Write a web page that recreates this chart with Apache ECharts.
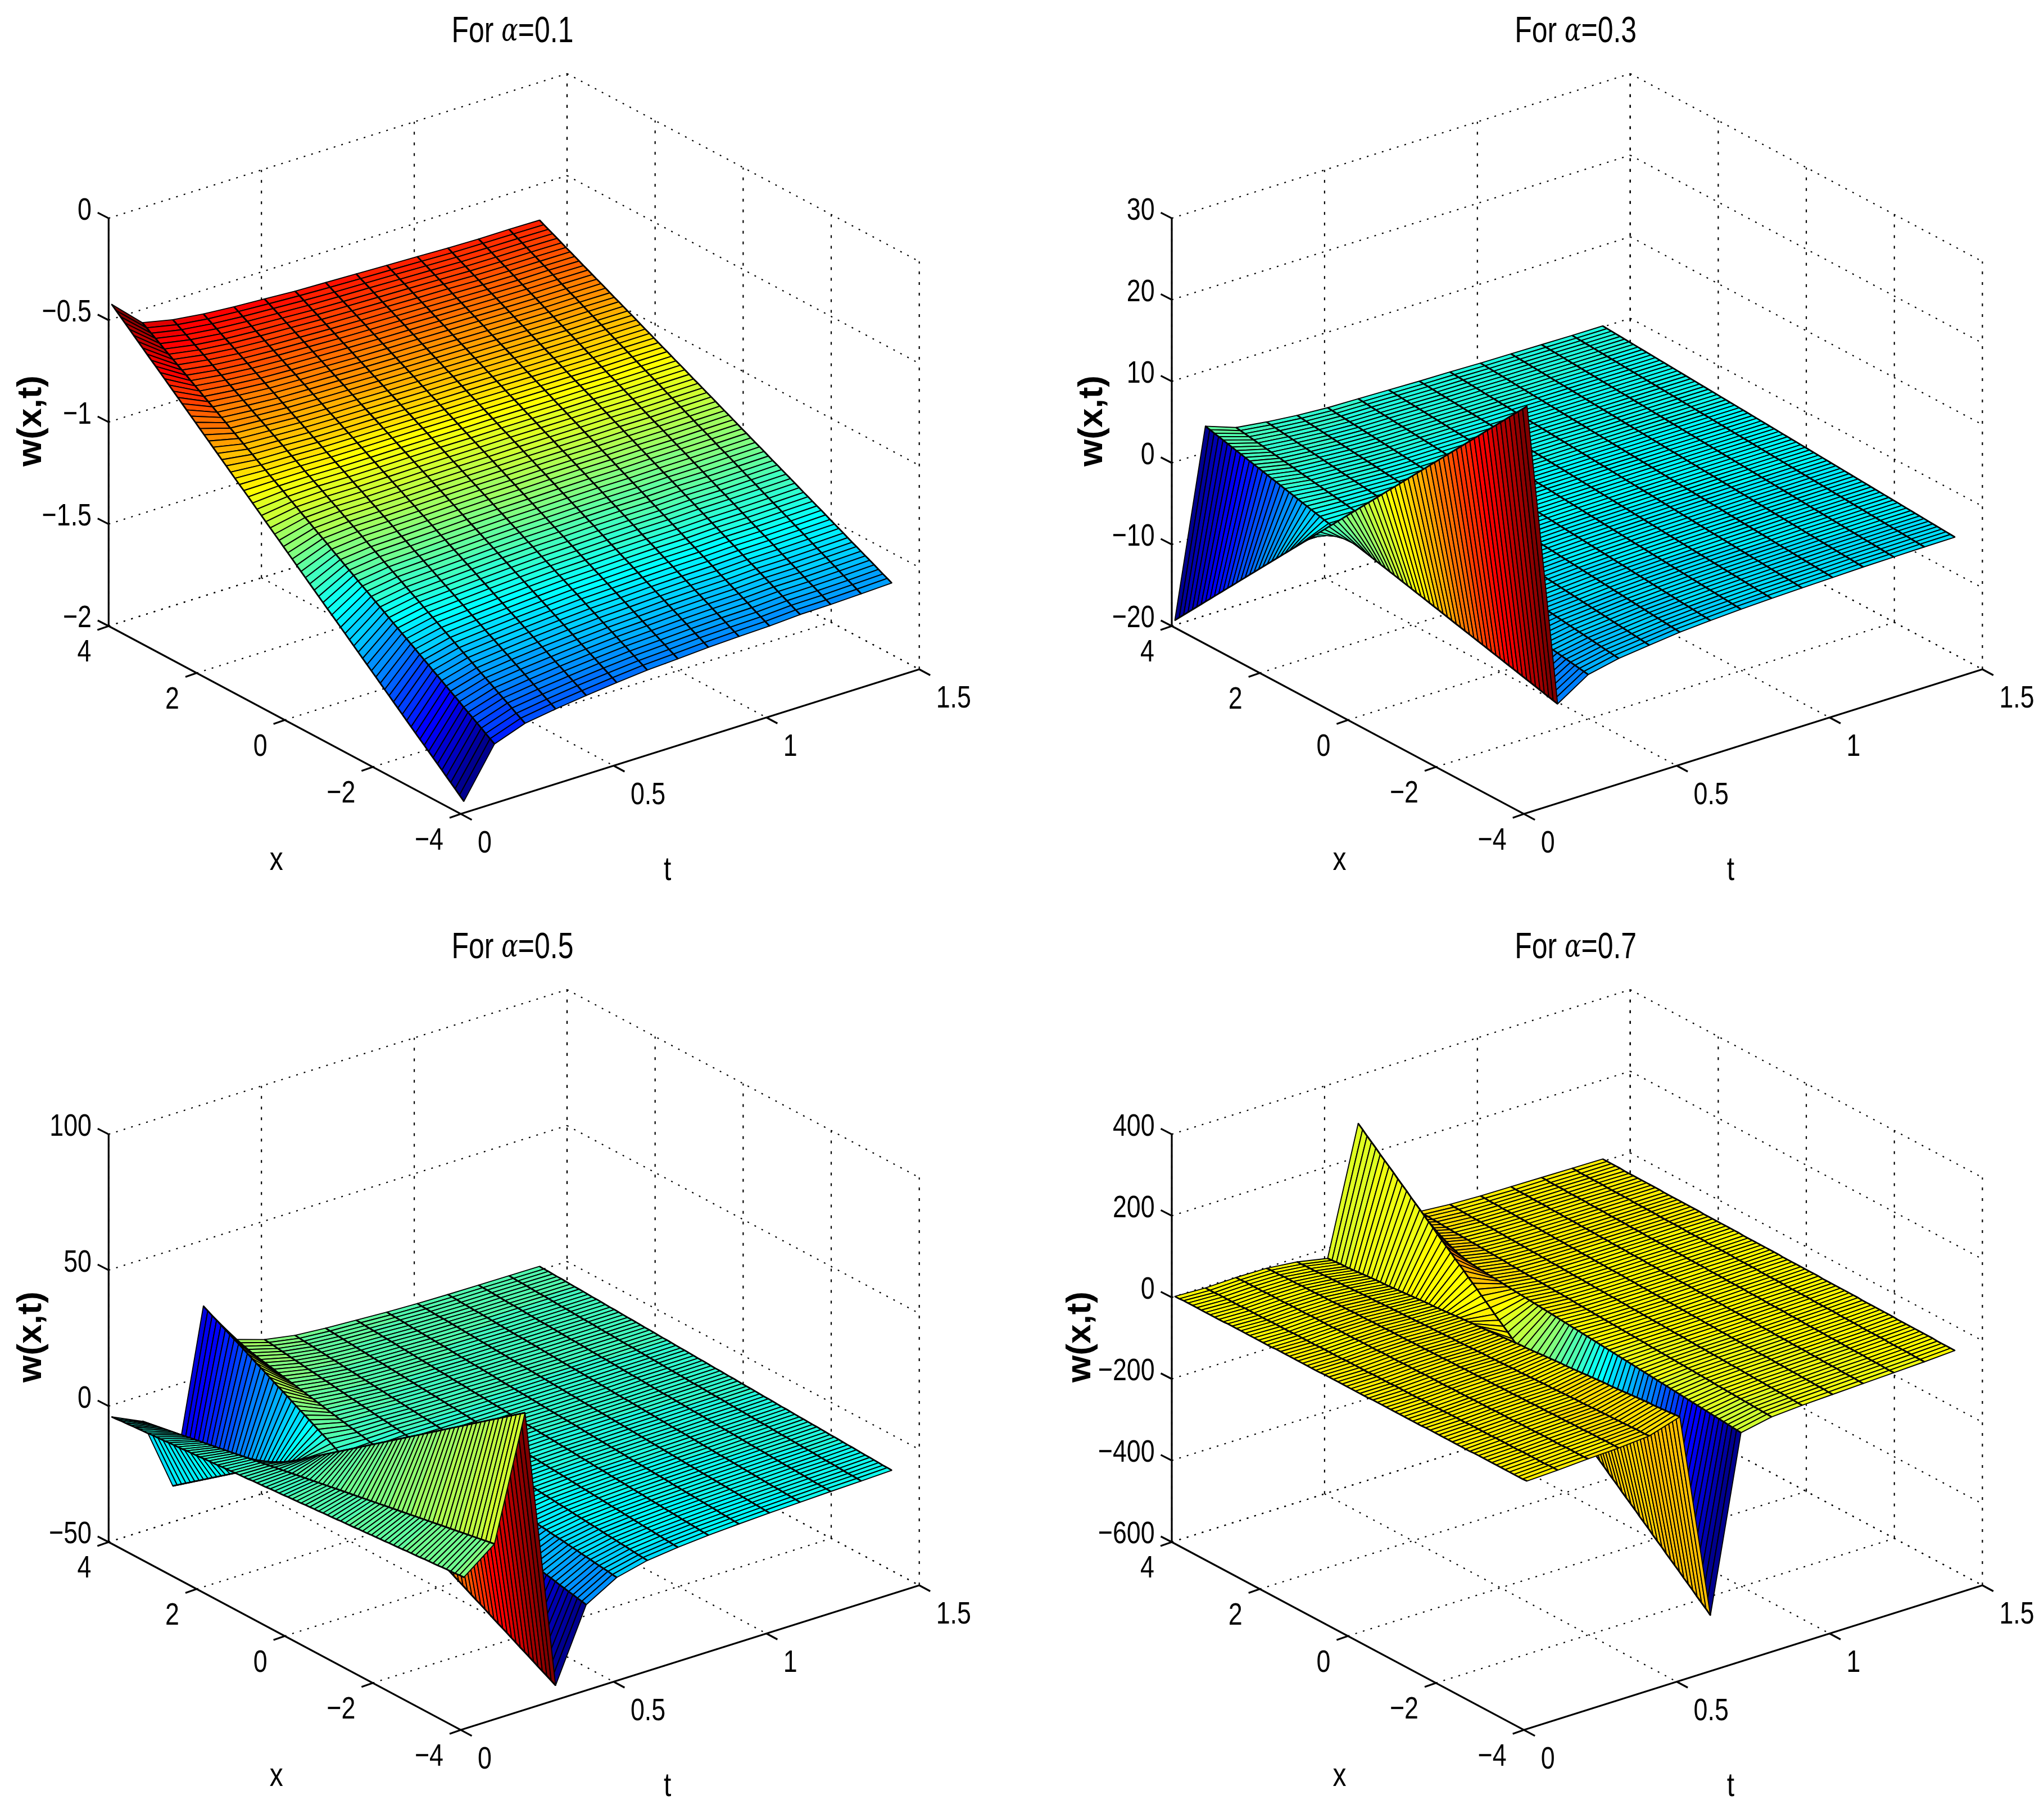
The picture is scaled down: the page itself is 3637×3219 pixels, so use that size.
<!DOCTYPE html>
<html>
<head>
<meta charset="utf-8">
<style>html,body{margin:0;padding:0;background:#fff}#chart{width:3637px;height:3219px}</style>
<script src="https://cdn.jsdelivr.net/npm/echarts@6/dist/echarts.min.js"></script>
</head>
<body>
<div id="chart"></div>
<script>
const xValues = [-4,-3.9,-3.8,-3.7,-3.6,-3.5,-3.4,-3.3,-3.2,-3.1,-3,-2.9,-2.8,-2.7,-2.6,-2.5,-2.4,-2.3,-2.2,-2.1,-2,-1.9,-1.8,-1.7,-1.6,-1.5,-1.4,-1.3,-1.2,-1.1,-1,-.9,-.8,-.7,-.6,-.5,-.4,-.3,-.2,-.1,0,.1,.2,.3,.4,.5,.6,.7,.8,.9,1,1.1,1.2,1.3,1.4,1.5,1.6,1.7,1.8,1.9,2,2.1,2.2,2.3,2.4,2.5,2.6,2.7,2.8,2.9,3,3.1,3.2,3.3,3.4,3.5,3.6,3.7,3.8,3.9,4]
const tValues = [0.01, 0.11, 0.21, 0.31, 0.41, 0.51, 0.61, 0.71, 0.81, 0.91, 1.01, 1.11, 1.21, 1.31, 1.41]
const xTicks = [4, 2, 0, -2, -4]
const tTicks = [0, 0.5, 1, 1.5]
const titles = ['0.1', '0.3', '0.5', '0.7']
const zTicks1 = [0, -0.5, -1, -1.5, -2]
const zTicks2 = [30, 20, 10, 0, -10, -20]
const zTicks3 = [100, 50, 0, -50]
const zTicks4 = [400, 200, 0, -200, -400, -600]

// 每行一个 t，行内从 x=-4 到 x=4
const w1 = [
[-1.943,-1.924,-1.905,-1.886,-1.867,-1.848,-1.829,-1.81,-1.791,-1.772,-1.754,-1.735,-1.716,-1.697,-1.678,-1.659,-1.64,-1.621,-1.602,-1.583,-1.564,-1.545,-1.526,-1.507,-1.488,-1.469,-1.45,-1.431,-1.412,-1.393,-1.374,-1.356,-1.337,-1.318,-1.299,-1.28,-1.261,-1.242,-1.223,-1.204,-1.185,-1.166,-1.147,-1.128,-1.109,-1.09,-1.071,-1.052,-1.033,-1.014,-.995,-.977,-.958,-.939,-.92,-.901,-.882,-.863,-.844,-.825,-.806,-.787,-.768,-.749,-.73,-.711,-.692,-.673,-.654,-.635,-.616,-.598,-.579,-.56,-.541,-.522,-.503,-.484,-.465,-.446,-.427],
[-1.709,-1.695,-1.681,-1.666,-1.652,-1.637,-1.623,-1.609,-1.594,-1.58,-1.566,-1.552,-1.537,-1.523,-1.509,-1.494,-1.48,-1.466,-1.451,-1.437,-1.423,-1.409,-1.394,-1.38,-1.366,-1.351,-1.337,-1.323,-1.308,-1.294,-1.28,-1.266,-1.251,-1.237,-1.223,-1.208,-1.194,-1.18,-1.165,-1.151,-1.137,-1.123,-1.108,-1.094,-1.08,-1.065,-1.051,-1.037,-1.022,-1.008,-.994,-.98,-.965,-.951,-.937,-.922,-.908,-.894,-.879,-.865,-.851,-.836,-.822,-.808,-.793,-.779,-.765,-.75,-.736,-.722,-.707,-.693,-.679,-.664,-.65,-.636,-.621,-.607,-.593,-.578,-.564],
[-1.655,-1.642,-1.629,-1.615,-1.602,-1.589,-1.576,-1.562,-1.549,-1.536,-1.523,-1.51,-1.496,-1.483,-1.47,-1.457,-1.443,-1.43,-1.417,-1.404,-1.39,-1.377,-1.364,-1.351,-1.337,-1.324,-1.311,-1.298,-1.284,-1.271,-1.258,-1.245,-1.232,-1.218,-1.205,-1.192,-1.179,-1.165,-1.152,-1.139,-1.126,-1.113,-1.099,-1.086,-1.073,-1.06,-1.046,-1.033,-1.02,-1.007,-.994,-.98,-.967,-.954,-.941,-.927,-.914,-.901,-.888,-.874,-.861,-.848,-.835,-.821,-.808,-.795,-.782,-.768,-.755,-.742,-.729,-.716,-.702,-.689,-.676,-.663,-.649,-.636,-.623,-.61,-.597],
[-1.632,-1.619,-1.607,-1.594,-1.581,-1.569,-1.556,-1.543,-1.53,-1.518,-1.505,-1.492,-1.48,-1.467,-1.454,-1.442,-1.429,-1.416,-1.403,-1.391,-1.378,-1.365,-1.353,-1.34,-1.327,-1.315,-1.302,-1.289,-1.276,-1.264,-1.251,-1.238,-1.226,-1.213,-1.2,-1.188,-1.175,-1.162,-1.149,-1.137,-1.124,-1.111,-1.099,-1.086,-1.073,-1.061,-1.048,-1.035,-1.022,-1.01,-.997,-.984,-.972,-.959,-.946,-.934,-.921,-.908,-.895,-.883,-.87,-.857,-.845,-.832,-.819,-.807,-.794,-.781,-.768,-.756,-.743,-.73,-.718,-.705,-.692,-.68,-.667,-.654,-.641,-.629,-.616],
[-1.613,-1.601,-1.588,-1.576,-1.564,-1.551,-1.539,-1.527,-1.515,-1.502,-1.49,-1.478,-1.465,-1.453,-1.441,-1.428,-1.416,-1.404,-1.392,-1.379,-1.367,-1.355,-1.342,-1.33,-1.318,-1.305,-1.293,-1.281,-1.269,-1.256,-1.244,-1.232,-1.219,-1.207,-1.195,-1.182,-1.17,-1.158,-1.146,-1.133,-1.121,-1.109,-1.096,-1.084,-1.072,-1.059,-1.047,-1.035,-1.022,-1.01,-.997,-.985,-.973,-.96,-.948,-.936,-.923,-.911,-.899,-.887,-.874,-.862,-.85,-.837,-.825,-.813,-.8,-.788,-.776,-.764,-.751,-.739,-.727,-.714,-.702,-.69,-.677,-.665,-.653,-.64,-.628],
[-1.597,-1.585,-1.573,-1.561,-1.549,-1.537,-1.525,-1.513,-1.501,-1.489,-1.477,-1.465,-1.453,-1.441,-1.429,-1.417,-1.405,-1.393,-1.381,-1.369,-1.357,-1.345,-1.333,-1.321,-1.309,-1.297,-1.285,-1.273,-1.261,-1.249,-1.237,-1.225,-1.213,-1.201,-1.189,-1.177,-1.165,-1.153,-1.141,-1.129,-1.117,-1.105,-1.093,-1.081,-1.069,-1.057,-1.045,-1.033,-1.021,-1.009,-.997,-.985,-.973,-.961,-.949,-.937,-.925,-.913,-.901,-.889,-.877,-.865,-.853,-.841,-.829,-.817,-.805,-.793,-.781,-.769,-.757,-.745,-.733,-.721,-.709,-.697,-.685,-.673,-.661,-.649,-.637],
[-1.583,-1.571,-1.56,-1.548,-1.536,-1.524,-1.513,-1.501,-1.489,-1.478,-1.466,-1.454,-1.442,-1.431,-1.419,-1.407,-1.395,-1.384,-1.372,-1.36,-1.349,-1.337,-1.325,-1.314,-1.302,-1.29,-1.278,-1.267,-1.255,-1.243,-1.232,-1.22,-1.208,-1.196,-1.185,-1.173,-1.161,-1.15,-1.138,-1.126,-1.115,-1.103,-1.091,-1.079,-1.068,-1.056,-1.044,-1.032,-1.021,-1.009,-.997,-.985,-.974,-.962,-.95,-.939,-.927,-.915,-.903,-.892,-.88,-.868,-.857,-.845,-.833,-.821,-.81,-.798,-.786,-.775,-.763,-.751,-.739,-.728,-.716,-.704,-.693,-.681,-.669,-.657,-.646],
[-1.575,-1.563,-1.552,-1.54,-1.529,-1.517,-1.506,-1.494,-1.483,-1.471,-1.46,-1.448,-1.436,-1.425,-1.413,-1.402,-1.39,-1.379,-1.367,-1.356,-1.344,-1.333,-1.321,-1.31,-1.298,-1.287,-1.275,-1.264,-1.252,-1.241,-1.229,-1.217,-1.206,-1.194,-1.183,-1.171,-1.16,-1.148,-1.137,-1.125,-1.113,-1.102,-1.09,-1.079,-1.067,-1.056,-1.044,-1.033,-1.021,-1.01,-.998,-.986,-.975,-.963,-.952,-.94,-.929,-.917,-.906,-.894,-.882,-.871,-.859,-.848,-.836,-.825,-.813,-.802,-.79,-.779,-.767,-.755,-.744,-.732,-.721,-.709,-.698,-.686,-.675,-.663,-.651],
[-1.566,-1.555,-1.543,-1.532,-1.521,-1.509,-1.498,-1.486,-1.475,-1.464,-1.452,-1.441,-1.43,-1.418,-1.407,-1.396,-1.384,-1.373,-1.361,-1.35,-1.339,-1.327,-1.316,-1.305,-1.293,-1.282,-1.27,-1.259,-1.248,-1.236,-1.225,-1.214,-1.202,-1.191,-1.18,-1.168,-1.157,-1.145,-1.134,-1.123,-1.111,-1.1,-1.089,-1.077,-1.066,-1.054,-1.043,-1.032,-1.02,-1.009,-.997,-.986,-.975,-.963,-.952,-.941,-.929,-.918,-.906,-.895,-.884,-.872,-.861,-.85,-.838,-.827,-.815,-.804,-.793,-.781,-.77,-.759,-.747,-.736,-.725,-.713,-.702,-.69,-.679,-.668,-.656],
[-1.56,-1.549,-1.538,-1.526,-1.515,-1.504,-1.493,-1.481,-1.47,-1.459,-1.448,-1.436,-1.425,-1.414,-1.403,-1.391,-1.38,-1.369,-1.358,-1.346,-1.335,-1.324,-1.313,-1.301,-1.29,-1.279,-1.268,-1.256,-1.245,-1.234,-1.223,-1.211,-1.2,-1.189,-1.178,-1.166,-1.155,-1.144,-1.133,-1.121,-1.111,-1.1,-1.088,-1.077,-1.066,-1.055,-1.043,-1.032,-1.021,-1.01,-.998,-.987,-.976,-.965,-.953,-.942,-.931,-.92,-.908,-.897,-.886,-.875,-.863,-.852,-.841,-.83,-.818,-.807,-.796,-.785,-.773,-.762,-.751,-.74,-.728,-.717,-.706,-.695,-.683,-.672,-.661],
[-1.556,-1.545,-1.534,-1.523,-1.512,-1.5,-1.489,-1.478,-1.467,-1.456,-1.445,-1.434,-1.423,-1.411,-1.4,-1.389,-1.378,-1.367,-1.356,-1.345,-1.333,-1.322,-1.311,-1.3,-1.289,-1.278,-1.267,-1.256,-1.244,-1.233,-1.222,-1.211,-1.2,-1.189,-1.178,-1.167,-1.155,-1.144,-1.133,-1.122,-1.111,-1.1,-1.089,-1.077,-1.066,-1.055,-1.044,-1.033,-1.022,-1.011,-.999,-.988,-.977,-.966,-.955,-.944,-.933,-.922,-.91,-.899,-.888,-.877,-.866,-.855,-.844,-.832,-.821,-.81,-.799,-.788,-.777,-.766,-.755,-.743,-.732,-.721,-.71,-.699,-.688,-.677,-.666],
[-1.547,-1.536,-1.525,-1.514,-1.503,-1.492,-1.481,-1.47,-1.459,-1.448,-1.437,-1.426,-1.416,-1.405,-1.394,-1.383,-1.372,-1.361,-1.35,-1.339,-1.328,-1.317,-1.306,-1.295,-1.284,-1.273,-1.262,-1.251,-1.24,-1.229,-1.218,-1.208,-1.197,-1.186,-1.175,-1.164,-1.153,-1.142,-1.131,-1.12,-1.109,-1.098,-1.087,-1.076,-1.065,-1.054,-1.043,-1.032,-1.021,-1.01,-.999,-.989,-.978,-.967,-.956,-.945,-.934,-.923,-.912,-.901,-.89,-.879,-.868,-.857,-.846,-.835,-.824,-.813,-.802,-.791,-.78,-.77,-.759,-.748,-.737,-.726,-.715,-.704,-.693,-.682,-.671],
[-1.545,-1.534,-1.523,-1.512,-1.501,-1.491,-1.48,-1.469,-1.458,-1.447,-1.436,-1.425,-1.414,-1.403,-1.392,-1.382,-1.371,-1.36,-1.349,-1.338,-1.327,-1.316,-1.305,-1.294,-1.283,-1.273,-1.262,-1.251,-1.24,-1.229,-1.218,-1.207,-1.196,-1.185,-1.174,-1.164,-1.153,-1.142,-1.131,-1.12,-1.11,-1.099,-1.088,-1.077,-1.066,-1.055,-1.044,-1.033,-1.022,-1.011,-1.001,-.99,-.979,-.968,-.957,-.946,-.935,-.924,-.913,-.902,-.892,-.881,-.87,-.859,-.848,-.837,-.826,-.815,-.804,-.793,-.783,-.772,-.761,-.75,-.739,-.728,-.717,-.706,-.695,-.684,-.674],
[-1.54,-1.529,-1.518,-1.508,-1.497,-1.486,-1.475,-1.464,-1.453,-1.443,-1.432,-1.421,-1.41,-1.399,-1.388,-1.378,-1.367,-1.356,-1.345,-1.334,-1.324,-1.313,-1.302,-1.291,-1.28,-1.269,-1.259,-1.248,-1.237,-1.226,-1.215,-1.204,-1.194,-1.183,-1.172,-1.161,-1.15,-1.14,-1.129,-1.118,-1.107,-1.096,-1.085,-1.075,-1.064,-1.053,-1.042,-1.031,-1.02,-1.01,-.999,-.988,-.977,-.966,-.955,-.945,-.934,-.923,-.912,-.901,-.891,-.88,-.869,-.858,-.847,-.836,-.826,-.815,-.804,-.793,-.782,-.771,-.761,-.75,-.739,-.728,-.717,-.706,-.696,-.685,-.674],
[-1.534,-1.523,-1.513,-1.502,-1.491,-1.48,-1.47,-1.459,-1.448,-1.438,-1.427,-1.416,-1.405,-1.395,-1.384,-1.373,-1.362,-1.352,-1.341,-1.33,-1.32,-1.309,-1.298,-1.287,-1.277,-1.266,-1.255,-1.245,-1.234,-1.223,-1.212,-1.202,-1.191,-1.18,-1.17,-1.159,-1.148,-1.137,-1.127,-1.116,-1.105,-1.094,-1.084,-1.073,-1.062,-1.052,-1.041,-1.03,-1.019,-1.009,-.998,-.987,-.977,-.966,-.955,-.944,-.934,-.923,-.912,-.901,-.891,-.88,-.869,-.859,-.848,-.837,-.826,-.816,-.805,-.794,-.784,-.773,-.762,-.751,-.741,-.73,-.719,-.708,-.698,-.687,-.676]
]
const w2 = [
[29.87,29.25,28.64,28.02,27.41,26.79,26.17,25.56,24.94,24.33,23.71,23.09,22.48,21.86,21.24,20.63,20.01,19.4,18.78,18.16,17.55,16.93,16.32,15.7,15.08,14.47,13.85,13.24,12.62,12,11.39,10.77,10.16,9.54,8.92,8.31,7.69,7.07,6.46,5.84,5.23,4.61,3.99,3.38,2.76,2.15,1.53,.91,.3,-.32,-.93,-1.55,-2.17,-2.78,-3.4,-4.01,-4.63,-5.25,-5.86,-6.48,-7.09,-7.71,-8.33,-8.94,-9.56,-10.17,-10.79,-11.41,-12.02,-12.64,-13.25,-13.87,-14.49,-15.1,-15.72,-16.34,-16.95,-17.57,-18.18,-18.8,-19.42],
[-7.81,-7.67,-7.53,-7.4,-7.26,-7.12,-6.98,-6.85,-6.71,-6.57,-6.43,-6.3,-6.16,-6.02,-5.88,-5.75,-5.61,-5.47,-5.33,-5.2,-5.06,-4.92,-4.78,-4.65,-4.51,-4.37,-4.23,-4.09,-3.96,-3.82,-3.68,-3.54,-3.41,-3.27,-3.13,-2.99,-2.86,-2.72,-2.58,-2.44,-2.31,-2.17,-2.03,-1.89,-1.76,-1.62,-1.48,-1.34,-1.21,-1.07,-.93,-.79,-.66,-.52,-.38,-.24,-.11,.03,.17,.31,.45,.58,.72,.86,1,1.13,1.27,1.41,1.55,1.68,1.82,1.96,2.1,2.23,2.37,2.51,2.65,2.78,2.92,3.06,3.2],
[-5.4,-5.31,-5.22,-5.13,-5.04,-4.95,-4.86,-4.76,-4.67,-4.58,-4.49,-4.4,-4.31,-4.22,-4.13,-4.04,-3.95,-3.86,-3.77,-3.67,-3.58,-3.49,-3.4,-3.31,-3.22,-3.13,-3.04,-2.95,-2.86,-2.77,-2.68,-2.58,-2.49,-2.4,-2.31,-2.22,-2.13,-2.04,-1.95,-1.86,-1.77,-1.68,-1.59,-1.49,-1.4,-1.31,-1.22,-1.13,-1.04,-.95,-.86,-.77,-.68,-.59,-.5,-.4,-.31,-.22,-.13,-.04,.05,.14,.23,.32,.41,.5,.59,.69,.78,.87,.96,1.05,1.14,1.23,1.32,1.41,1.5,1.59,1.68,1.77,1.86],
[-4.6,-4.53,-4.45,-4.38,-4.3,-4.23,-4.15,-4.08,-4,-3.93,-3.86,-3.78,-3.71,-3.63,-3.56,-3.48,-3.41,-3.33,-3.26,-3.18,-3.11,-3.04,-2.96,-2.89,-2.81,-2.74,-2.66,-2.59,-2.51,-2.44,-2.37,-2.29,-2.22,-2.14,-2.07,-1.99,-1.92,-1.84,-1.77,-1.69,-1.62,-1.55,-1.47,-1.4,-1.32,-1.25,-1.17,-1.1,-1.02,-.95,-.88,-.8,-.73,-.65,-.58,-.5,-.43,-.35,-.28,-.2,-.13,-.06,.02,.09,.17,.24,.32,.39,.47,.54,.61,.69,.76,.84,.91,.99,1.06,1.14,1.21,1.29,1.36],
[-4.16,-4.1,-4.03,-3.97,-3.9,-3.84,-3.77,-3.71,-3.65,-3.58,-3.52,-3.45,-3.39,-3.32,-3.26,-3.2,-3.13,-3.07,-3,-2.94,-2.88,-2.81,-2.75,-2.68,-2.62,-2.55,-2.49,-2.43,-2.36,-2.3,-2.23,-2.17,-2.1,-2.04,-1.98,-1.91,-1.85,-1.78,-1.72,-1.65,-1.59,-1.53,-1.46,-1.4,-1.33,-1.27,-1.2,-1.14,-1.08,-1.01,-.95,-.88,-.82,-.75,-.69,-.63,-.56,-.5,-.43,-.37,-.31,-.24,-.18,-.11,-.05,.02,.08,.14,.21,.27,.34,.4,.47,.53,.59,.66,.72,.79,.85,.92,.98],
[-3.75,-3.69,-3.64,-3.58,-3.53,-3.47,-3.41,-3.36,-3.3,-3.25,-3.19,-3.13,-3.08,-3.02,-2.96,-2.91,-2.85,-2.8,-2.74,-2.68,-2.63,-2.57,-2.52,-2.46,-2.4,-2.35,-2.29,-2.24,-2.18,-2.12,-2.07,-2.01,-1.96,-1.9,-1.84,-1.79,-1.73,-1.67,-1.62,-1.56,-1.51,-1.45,-1.39,-1.34,-1.28,-1.23,-1.17,-1.11,-1.06,-1,-.95,-.89,-.83,-.78,-.72,-.66,-.61,-.55,-.5,-.44,-.38,-.33,-.27,-.22,-.16,-.1,-.05,.01,.06,.12,.18,.23,.29,.35,.4,.46,.51,.57,.63,.68,.74],
[-3.5,-3.45,-3.4,-3.34,-3.29,-3.24,-3.19,-3.14,-3.08,-3.03,-2.98,-2.93,-2.88,-2.83,-2.77,-2.72,-2.67,-2.62,-2.57,-2.51,-2.46,-2.41,-2.36,-2.31,-2.25,-2.2,-2.15,-2.1,-2.05,-1.99,-1.94,-1.89,-1.84,-1.79,-1.74,-1.68,-1.63,-1.58,-1.53,-1.48,-1.43,-1.37,-1.32,-1.27,-1.22,-1.17,-1.11,-1.06,-1.01,-.96,-.91,-.85,-.8,-.75,-.7,-.65,-.6,-.54,-.49,-.44,-.39,-.34,-.28,-.23,-.18,-.13,-.08,-.03,.03,.08,.13,.18,.23,.29,.34,.39,.44,.49,.55,.6,.65],
[-3.3,-3.25,-3.2,-3.16,-3.11,-3.06,-3.01,-2.96,-2.92,-2.87,-2.82,-2.77,-2.72,-2.67,-2.63,-2.58,-2.53,-2.48,-2.43,-2.39,-2.34,-2.29,-2.24,-2.19,-2.15,-2.1,-2.05,-2,-1.95,-1.91,-1.86,-1.81,-1.76,-1.71,-1.66,-1.62,-1.57,-1.52,-1.47,-1.42,-1.38,-1.33,-1.28,-1.23,-1.18,-1.14,-1.09,-1.04,-.99,-.94,-.89,-.85,-.8,-.75,-.7,-.65,-.61,-.56,-.51,-.46,-.41,-.37,-.32,-.27,-.22,-.17,-.13,-.08,-.03,.02,.07,.11,.16,.21,.26,.31,.35,.4,.45,.5,.55],
[-3.15,-3.11,-3.06,-3.02,-2.97,-2.93,-2.88,-2.84,-2.79,-2.75,-2.7,-2.66,-2.61,-2.57,-2.52,-2.48,-2.43,-2.39,-2.34,-2.3,-2.25,-2.21,-2.16,-2.12,-2.07,-2.03,-1.98,-1.94,-1.89,-1.85,-1.8,-1.76,-1.71,-1.67,-1.62,-1.58,-1.53,-1.49,-1.44,-1.4,-1.35,-1.31,-1.26,-1.22,-1.17,-1.13,-1.08,-1.04,-.99,-.95,-.9,-.86,-.81,-.77,-.72,-.68,-.63,-.59,-.54,-.5,-.45,-.41,-.36,-.32,-.27,-.23,-.18,-.14,-.09,-.05,0,.04,.09,.13,.18,.22,.27,.31,.36,.4,.45],
[-3.05,-3.01,-2.96,-2.92,-2.88,-2.83,-2.79,-2.75,-2.71,-2.66,-2.62,-2.58,-2.53,-2.49,-2.45,-2.4,-2.36,-2.32,-2.27,-2.23,-2.19,-2.15,-2.1,-2.06,-2.02,-1.97,-1.93,-1.89,-1.84,-1.8,-1.76,-1.71,-1.67,-1.63,-1.58,-1.54,-1.5,-1.46,-1.41,-1.37,-1.33,-1.28,-1.24,-1.2,-1.15,-1.11,-1.07,-1.02,-.98,-.94,-.9,-.85,-.81,-.77,-.72,-.68,-.64,-.59,-.55,-.51,-.46,-.42,-.38,-.34,-.29,-.25,-.21,-.16,-.12,-.08,-.03,.01,.05,.1,.14,.18,.23,.27,.31,.35,.4],
[-2.95,-2.91,-2.87,-2.83,-2.79,-2.75,-2.71,-2.67,-2.63,-2.58,-2.54,-2.5,-2.46,-2.42,-2.38,-2.34,-2.3,-2.26,-2.22,-2.18,-2.14,-2.1,-2.06,-2.02,-1.98,-1.93,-1.89,-1.85,-1.81,-1.77,-1.73,-1.69,-1.65,-1.61,-1.57,-1.53,-1.49,-1.45,-1.41,-1.37,-1.33,-1.28,-1.24,-1.2,-1.16,-1.12,-1.08,-1.04,-1,-.96,-.92,-.88,-.84,-.8,-.76,-.72,-.67,-.63,-.59,-.55,-.51,-.47,-.43,-.39,-.35,-.31,-.27,-.23,-.19,-.15,-.11,-.07,-.03,.02,.06,.1,.14,.18,.22,.26,.3],
[-2.85,-2.81,-2.77,-2.73,-2.7,-2.66,-2.62,-2.58,-2.54,-2.5,-2.46,-2.42,-2.39,-2.35,-2.31,-2.27,-2.23,-2.19,-2.15,-2.11,-2.08,-2.04,-2,-1.96,-1.92,-1.88,-1.84,-1.8,-1.77,-1.73,-1.69,-1.65,-1.61,-1.57,-1.53,-1.49,-1.46,-1.42,-1.38,-1.34,-1.3,-1.26,-1.22,-1.18,-1.15,-1.11,-1.07,-1.03,-.99,-.95,-.91,-.87,-.84,-.8,-.76,-.72,-.68,-.64,-.6,-.56,-.53,-.49,-.45,-.41,-.37,-.33,-.29,-.25,-.22,-.18,-.14,-.1,-.06,-.02,.02,.06,.09,.13,.17,.21,.25],
[-2.8,-2.76,-2.73,-2.69,-2.65,-2.61,-2.58,-2.54,-2.5,-2.46,-2.43,-2.39,-2.35,-2.31,-2.28,-2.24,-2.2,-2.16,-2.13,-2.09,-2.05,-2.01,-1.98,-1.94,-1.9,-1.86,-1.83,-1.79,-1.75,-1.71,-1.68,-1.64,-1.6,-1.56,-1.53,-1.49,-1.45,-1.41,-1.38,-1.34,-1.3,-1.26,-1.23,-1.19,-1.15,-1.11,-1.08,-1.04,-1,-.96,-.93,-.89,-.85,-.81,-.78,-.74,-.7,-.66,-.63,-.59,-.55,-.51,-.48,-.44,-.4,-.36,-.33,-.29,-.25,-.21,-.18,-.14,-.1,-.06,-.03,.01,.05,.09,.12,.16,.2],
[-2.75,-2.71,-2.68,-2.64,-2.6,-2.57,-2.53,-2.5,-2.46,-2.42,-2.39,-2.35,-2.32,-2.28,-2.24,-2.21,-2.17,-2.13,-2.1,-2.06,-2.03,-1.99,-1.95,-1.92,-1.88,-1.84,-1.81,-1.77,-1.74,-1.7,-1.66,-1.63,-1.59,-1.55,-1.52,-1.48,-1.45,-1.41,-1.37,-1.34,-1.3,-1.26,-1.23,-1.19,-1.16,-1.12,-1.08,-1.05,-1.01,-.97,-.94,-.9,-.87,-.83,-.79,-.76,-.72,-.68,-.65,-.61,-.58,-.54,-.5,-.47,-.43,-.39,-.36,-.32,-.29,-.25,-.21,-.18,-.14,-.1,-.07,-.03,.01,.04,.08,.11,.15],
[-2.73,-2.69,-2.66,-2.62,-2.59,-2.55,-2.52,-2.48,-2.44,-2.41,-2.37,-2.34,-2.3,-2.26,-2.23,-2.19,-2.16,-2.12,-2.09,-2.05,-2.01,-1.98,-1.94,-1.91,-1.87,-1.84,-1.8,-1.76,-1.73,-1.69,-1.66,-1.62,-1.59,-1.55,-1.51,-1.48,-1.44,-1.41,-1.37,-1.34,-1.3,-1.26,-1.23,-1.19,-1.16,-1.12,-1.09,-1.05,-1.01,-.98,-.94,-.91,-.87,-.84,-.8,-.76,-.73,-.69,-.66,-.62,-.59,-.55,-.51,-.48,-.44,-.41,-.37,-.34,-.3,-.26,-.23,-.19,-.16,-.12,-.09,-.05,-.01,.02,.06,.09,.13]
]
const w3 = [
[5.8,5.7,5.5,5.4,5.3,5.2,5,4.9,4.8,4.7,4.5,4.4,4.3,4.2,4,3.9,3.8,3.7,3.5,3.4,3.3,3.2,3,2.9,2.8,2.6,2.5,2.4,2.3,2.1,2,1.9,1.8,1.6,1.5,1.4,1.3,1.1,1,.9,.8,.6,.5,.4,.3,.1,0,-.1,-.2,-.4,-.5,-.6,-.7,-.9,-1,-1.1,-1.3,-1.4,-1.5,-1.6,-1.8,-1.9,-2,-2.1,-2.3,-2.4,-2.5,-2.6,-2.8,-2.9,-3,-3.1,-3.3,-3.4,-3.5,-3.6,-3.8,-3.9,-4,-4.2,-4.3],
[14.5,14.2,13.9,13.6,13.3,13,12.7,12.4,12.1,11.8,11.5,11.2,10.9,10.6,10.3,10,9.7,9.4,9.1,8.8,8.5,8.2,7.9,7.6,7.3,7,6.7,6.4,6.1,5.8,5.5,5.2,4.9,4.6,4.3,4,3.7,3.4,3.1,2.8,2.5,2.2,1.9,1.6,1.3,1,.7,.4,.1,-.2,-.5,-.8,-1.1,-1.4,-1.7,-2,-2.3,-2.6,-2.9,-3.2,-3.5,-3.8,-4.1,-4.4,-4.7,-5,-5.3,-5.6,-5.9,-6.2,-6.5,-6.8,-7.1,-7.4,-7.7,-8,-8.3,-8.6,-8.9,-9.2,-9.5],
[59.2,58,56.8,55.6,54.4,53.2,52,50.8,49.6,48.4,47.2,46,44.8,43.6,42.4,41.2,40,38.8,37.6,36.4,35.2,34,32.8,31.6,30.4,29.2,28,26.8,25.6,24.4,23.2,22,20.8,19.6,18.4,17.2,16,14.8,13.6,12.4,11.2,10,8.8,7.6,6.4,5.2,4,2.8,1.6,.4,-.8,-2,-3.2,-4.4,-5.6,-6.8,-8,-9.2,-10.4,-11.6,-12.8,-14,-15.2,-16.4,-17.6,-18.8,-20,-21.2,-22.4,-23.6,-24.8,-26,-27.2,-28.4,-29.6,-30.8,-32,-33.2,-34.4,-35.6,-36.8],
[-44.6,-43.7,-42.8,-42,-41.1,-40.2,-39.3,-38.4,-37.6,-36.7,-35.8,-34.9,-34,-33.2,-32.3,-31.4,-30.5,-29.6,-28.8,-27.9,-27,-26.1,-25.2,-24.4,-23.5,-22.6,-21.7,-20.8,-20,-19.1,-18.2,-17.3,-16.4,-15.6,-14.7,-13.8,-12.9,-12,-11.2,-10.3,-9.4,-8.5,-7.6,-6.8,-5.9,-5,-4.1,-3.2,-2.4,-1.5,-.6,.3,1.2,2,2.9,3.8,4.7,5.6,6.4,7.3,8.2,9.1,10,10.8,11.7,12.6,13.5,14.4,15.2,16.1,17,17.9,18.8,19.6,20.5,21.4,22.3,23.2,24,24.9,25.8],
[-18.5,-18.1,-17.8,-17.4,-17.1,-16.7,-16.4,-16,-15.6,-15.3,-14.9,-14.6,-14.2,-13.9,-13.5,-13.2,-12.8,-12.4,-12.1,-11.7,-11.4,-11,-10.7,-10.3,-10,-9.6,-9.2,-8.9,-8.5,-8.2,-7.8,-7.5,-7.1,-6.8,-6.4,-6,-5.7,-5.3,-5,-4.6,-4.3,-3.9,-3.5,-3.2,-2.8,-2.5,-2.1,-1.8,-1.4,-1.1,-.7,-.3,0,.4,.7,1.1,1.4,1.8,2.1,2.5,2.9,3.2,3.6,3.9,4.3,4.6,5,5.3,5.7,6,6.4,6.8,7.1,7.5,7.8,8.2,8.5,8.9,9.2,9.6,10],
[-12,-11.8,-11.5,-11.3,-11.1,-10.9,-10.6,-10.4,-10.2,-9.9,-9.7,-9.5,-9.2,-9,-8.8,-8.6,-8.3,-8.1,-7.9,-7.6,-7.4,-7.2,-6.9,-6.7,-6.5,-6.3,-6,-5.8,-5.6,-5.3,-5.1,-4.9,-4.6,-4.4,-4.2,-4,-3.7,-3.5,-3.3,-3,-2.8,-2.6,-2.3,-2.1,-1.9,-1.7,-1.4,-1.2,-1,-.7,-.5,-.3,0,.2,.4,.6,.9,1.1,1.3,1.6,1.8,2,2.3,2.5,2.7,3,3.2,3.4,3.7,3.9,4.1,4.3,4.6,4.8,5,5.3,5.5,5.7,6,6.2,6.4],
[-9.3,-9.1,-9,-8.8,-8.6,-8.4,-8.3,-8.1,-7.9,-7.8,-7.6,-7.4,-7.2,-7.1,-6.9,-6.7,-6.6,-6.4,-6.2,-6,-5.9,-5.7,-5.5,-5.4,-5.2,-5,-4.8,-4.7,-4.5,-4.3,-4.2,-4,-3.8,-3.6,-3.5,-3.3,-3.1,-3,-2.8,-2.6,-2.5,-2.3,-2.1,-1.9,-1.8,-1.6,-1.4,-1.3,-1.1,-.9,-.7,-.6,-.4,-.2,-.1,.1,.3,.5,.6,.8,1,1.1,1.3,1.5,1.7,1.8,2,2.2,2.3,2.5,2.7,2.9,3,3.2,3.4,3.5,3.7,3.9,4,4.2,4.4],
[-8,-7.9,-7.7,-7.6,-7.4,-7.3,-7.1,-7,-6.9,-6.7,-6.6,-6.4,-6.3,-6.1,-6,-5.9,-5.7,-5.6,-5.4,-5.3,-5.1,-5,-4.9,-4.7,-4.6,-4.4,-4.3,-4.1,-4,-3.9,-3.7,-3.6,-3.4,-3.3,-3.1,-3,-2.9,-2.7,-2.6,-2.4,-2.3,-2.1,-2,-1.9,-1.7,-1.6,-1.4,-1.3,-1.1,-1,-.8,-.7,-.6,-.4,-.3,-.1,0,.2,.3,.4,.6,.7,.9,1,1.2,1.3,1.4,1.6,1.7,1.9,2,2.2,2.3,2.4,2.6,2.7,2.9,3,3.2,3.3,3.5],
[-7.1,-7,-6.9,-6.7,-6.6,-6.5,-6.4,-6.2,-6.1,-6,-5.9,-5.7,-5.6,-5.5,-5.4,-5.2,-5.1,-5,-4.9,-4.7,-4.6,-4.5,-4.4,-4.2,-4.1,-4,-3.9,-3.7,-3.6,-3.5,-3.4,-3.2,-3.1,-3,-2.9,-2.7,-2.6,-2.5,-2.4,-2.2,-2.1,-2,-1.9,-1.7,-1.6,-1.5,-1.4,-1.2,-1.1,-1,-.9,-.7,-.6,-.5,-.4,-.2,-.1,0,.1,.3,.4,.5,.6,.8,.9,1,1.1,1.3,1.4,1.5,1.6,1.8,1.9,2,2.1,2.3,2.4,2.5,2.6,2.8,2.9],
[-6.5,-6.4,-6.3,-6.2,-6.1,-5.9,-5.8,-5.7,-5.6,-5.5,-5.4,-5.3,-5.2,-5.1,-5,-4.9,-4.7,-4.6,-4.5,-4.4,-4.3,-4.2,-4.1,-4,-3.9,-3.8,-3.6,-3.5,-3.4,-3.3,-3.2,-3.1,-3,-2.9,-2.8,-2.7,-2.5,-2.4,-2.3,-2.2,-2.1,-2,-1.9,-1.8,-1.7,-1.6,-1.4,-1.3,-1.2,-1.1,-1,-.9,-.8,-.7,-.6,-.5,-.3,-.2,-.1,0,.1,.2,.3,.4,.5,.6,.8,.9,1,1.1,1.2,1.3,1.4,1.5,1.6,1.7,1.9,2,2.1,2.2,2.3],
[-6,-5.9,-5.8,-5.7,-5.6,-5.5,-5.4,-5.3,-5.2,-5.1,-5,-4.9,-4.8,-4.7,-4.6,-4.5,-4.4,-4.3,-4.2,-4.1,-4,-3.9,-3.8,-3.7,-3.6,-3.5,-3.4,-3.3,-3.2,-3.1,-3,-2.9,-2.8,-2.7,-2.6,-2.5,-2.4,-2.3,-2.2,-2.1,-2,-1.9,-1.8,-1.7,-1.6,-1.5,-1.4,-1.3,-1.2,-1.1,-1,-.9,-.8,-.7,-.6,-.5,-.4,-.3,-.2,-.1,0,.1,.2,.3,.4,.5,.6,.7,.8,.9,1,1.1,1.2,1.3,1.4,1.4,1.5,1.6,1.7,1.8,1.9],
[-5.6,-5.5,-5.4,-5.3,-5.2,-5.1,-5.1,-5,-4.9,-4.8,-4.7,-4.6,-4.5,-4.4,-4.3,-4.2,-4.1,-4,-4,-3.9,-3.8,-3.7,-3.6,-3.5,-3.4,-3.3,-3.2,-3.1,-3.1,-3,-2.9,-2.8,-2.7,-2.6,-2.5,-2.4,-2.3,-2.2,-2.1,-2,-2,-1.9,-1.8,-1.7,-1.6,-1.5,-1.4,-1.3,-1.2,-1.1,-1,-.9,-.9,-.8,-.7,-.6,-.5,-.4,-.3,-.2,-.1,0,.1,.2,.2,.3,.4,.5,.6,.7,.8,.9,1,1.1,1.1,1.2,1.3,1.4,1.5,1.6,1.7],
[-5.2,-5.1,-5,-5,-4.9,-4.8,-4.7,-4.6,-4.5,-4.4,-4.4,-4.3,-4.2,-4.1,-4,-3.9,-3.8,-3.8,-3.7,-3.6,-3.5,-3.4,-3.3,-3.2,-3.2,-3.1,-3,-2.9,-2.8,-2.7,-2.6,-2.6,-2.5,-2.4,-2.3,-2.2,-2.1,-2,-2,-1.9,-1.8,-1.7,-1.6,-1.5,-1.4,-1.4,-1.3,-1.2,-1.1,-1,-.9,-.8,-.8,-.7,-.6,-.5,-.4,-.3,-.2,-.2,-.1,0,.1,.2,.3,.4,.4,.5,.6,.7,.8,.9,1,1,1.1,1.2,1.3,1.4,1.5,1.5,1.6],
[-4.9,-4.8,-4.7,-4.7,-4.6,-4.5,-4.4,-4.3,-4.3,-4.2,-4.1,-4,-3.9,-3.9,-3.8,-3.7,-3.6,-3.5,-3.5,-3.4,-3.3,-3.2,-3.1,-3.1,-3,-2.9,-2.8,-2.7,-2.7,-2.6,-2.5,-2.4,-2.3,-2.3,-2.2,-2.1,-2,-1.9,-1.9,-1.8,-1.7,-1.6,-1.5,-1.5,-1.4,-1.3,-1.2,-1.1,-1.1,-1,-.9,-.8,-.7,-.7,-.6,-.5,-.4,-.3,-.3,-.2,-.1,0,.1,.1,.2,.3,.4,.5,.5,.6,.7,.8,.9,.9,1,1.1,1.2,1.3,1.3,1.4,1.5],
[-4.5,-4.4,-4.4,-4.3,-4.2,-4.1,-4.1,-4,-3.9,-3.8,-3.8,-3.7,-3.6,-3.5,-3.5,-3.4,-3.3,-3.2,-3.2,-3.1,-3,-3,-2.9,-2.8,-2.7,-2.7,-2.6,-2.5,-2.4,-2.4,-2.3,-2.2,-2.1,-2.1,-2,-1.9,-1.8,-1.8,-1.7,-1.6,-1.6,-1.5,-1.4,-1.3,-1.3,-1.2,-1.1,-1,-1,-.9,-.8,-.7,-.7,-.6,-.5,-.4,-.4,-.3,-.2,-.1,-.1,0,.1,.2,.2,.3,.4,.5,.5,.6,.7,.8,.8,.9,1,1.1,1.1,1.2,1.3,1.3,1.4]
]
const w4 = [
[8,7,7,7,7,7,7,7,7,7,7,7,7,6,6,6,6,6,6,6,6,6,6,6,5,5,5,5,5,5,5,5,5,5,5,5,4,4,4,4,4,4,4,4,4,4,4,3,3,3,3,3,3,3,3,3,3,3,2,2,2,2,2,2,2,2,2,2,2,1,1,1,1,1,1,1,1,1,1,0,0],
[11,11,11,10,10,10,10,10,10,9,9,9,9,9,9,8,8,8,8,8,8,7,7,7,7,7,6,6,6,6,6,6,5,5,5,5,5,5,4,4,4,4,4,3,3,3,3,3,3,2,2,2,2,2,2,1,1,1,1,1,1,0,0,0,0,0,-1,-1,-1,-1,-1,-1,-2,-2,-2,-2,-2,-2,-3,-3,-3],
[15,14,14,14,14,14,13,13,13,13,13,13,12,12,12,12,12,11,11,11,11,11,10,10,10,10,10,9,9,9,9,9,8,8,8,8,8,8,7,7,7,7,7,6,6,6,6,6,5,5,5,5,5,4,4,4,4,4,3,3,3,3,3,3,2,2,2,2,2,1,1,1,1,1,0,0,0,0,0,-1,-1],
[18,18,18,18,17,17,17,17,16,16,16,16,15,15,15,15,14,14,14,14,13,13,13,13,12,12,12,12,11,11,11,11,10,10,10,10,9,9,9,9,8,8,8,8,7,7,7,7,6,6,6,6,6,5,5,5,5,4,4,4,4,3,3,3,3,2,2,2,2,1,1,1,1,0,0,0,0,-1,-1,-1,-2],
[24,23,23,23,22,22,21,21,20,20,20,19,19,18,18,17,17,17,16,16,15,15,14,14,14,13,13,12,12,11,11,11,10,10,9,9,8,8,8,7,7,6,6,5,5,5,4,4,3,3,3,2,2,1,1,0,0,0,-1,-1,-2,-2,-3,-3,-3,-4,-4,-5,-5,-6,-6,-6,-7,-7,-8,-8,-9,-9,-9,-10,-10],
[47,46,45,44,43,42,41,41,40,39,38,37,36,35,34,33,32,32,31,30,29,28,27,26,25,24,23,23,22,21,20,19,18,17,16,15,15,14,13,12,11,10,9,8,7,6,5,5,4,3,2,1,0,-1,-2,-3,-4,-4,-5,-6,-7,-8,-9,-10,-11,-12,-13,-14,-14,-15,-16,-17,-18,-19,-20,-21,-22,-22,-23,-24,-25],
[-463,-453,-444,-435,-425,-416,-407,-397,-388,-379,-370,-360,-351,-342,-332,-323,-314,-304,-295,-286,-277,-267,-258,-249,-239,-230,-221,-211,-202,-193,-183,-174,-165,-155,-146,-137,-128,-118,-109,-100,-90,-81,-72,-62,-53,-44,-34,-25,-16,-7,3,12,21,31,40,49,59,68,77,87,96,105,114,124,133,142,152,161,170,180,189,198,208,217,226,235,245,254,263,273,282],
[-39,-38,-37,-36,-35,-34,-33,-32,-31,-30,-29,-28,-27,-26,-25,-24,-23,-22,-21,-20,-19,-18,-17,-16,-15,-14,-13,-12,-11,-10,-9,-8,-7,-6,-5,-4,-3,-2,-1,0,1,2,3,4,5,6,7,8,9,10,11,12,13,14,15,16,17,18,19,20,21,22,23,24,25,26,27,28,29,30,31,32,33,34,35,36,37,38,39,40,41],
[-24,-23,-23,-22,-22,-21,-21,-20,-20,-19,-19,-18,-18,-17,-16,-16,-15,-15,-14,-14,-13,-13,-12,-12,-11,-11,-10,-10,-9,-8,-8,-7,-7,-6,-6,-5,-5,-4,-4,-3,-3,-2,-2,-1,-1,0,1,1,2,2,3,3,4,4,5,5,6,6,7,7,8,9,9,10,10,11,11,12,12,13,13,14,14,15,15,16,17,17,18,18,19],
[-19,-19,-18,-18,-17,-17,-17,-16,-16,-15,-15,-15,-14,-14,-13,-13,-13,-12,-12,-11,-11,-11,-10,-10,-10,-9,-9,-8,-8,-8,-7,-7,-6,-6,-6,-5,-5,-4,-4,-4,-3,-3,-2,-2,-2,-1,-1,-1,0,0,1,1,1,2,2,3,3,3,4,4,5,5,5,6,6,7,7,7,8,8,9,9,9,10,10,10,11,11,12,12,13],
[-16,-16,-15,-15,-15,-14,-14,-14,-13,-13,-13,-12,-12,-12,-11,-11,-11,-11,-10,-10,-10,-9,-9,-9,-8,-8,-8,-7,-7,-7,-6,-6,-6,-5,-5,-5,-4,-4,-4,-3,-3,-3,-2,-2,-2,-1,-1,-1,0,0,0,0,1,1,1,2,2,2,3,3,3,4,4,4,5,5,5,6,6,6,7,7,7,8,8,8,9,9,9,10,10],
[-13,-13,-12,-12,-12,-12,-11,-11,-11,-11,-10,-10,-10,-9,-9,-9,-9,-8,-8,-8,-8,-7,-7,-7,-6,-6,-6,-6,-5,-5,-5,-5,-4,-4,-4,-3,-3,-3,-3,-2,-2,-2,-2,-1,-1,-1,-1,0,0,0,1,1,1,1,2,2,2,2,3,3,3,4,4,4,4,5,5,5,5,6,6,6,7,7,7,7,8,8,8,8,9],
[-10,-10,-10,-9,-9,-9,-9,-8,-8,-8,-8,-8,-7,-7,-7,-7,-6,-6,-6,-6,-6,-5,-5,-5,-5,-4,-4,-4,-4,-4,-3,-3,-3,-3,-2,-2,-2,-2,-2,-1,-1,-1,-1,0,0,0,0,0,1,1,1,1,2,2,2,2,2,3,3,3,3,4,4,4,4,4,5,5,5,5,6,6,6,6,6,7,7,7,7,8,8],
[-7,-7,-7,-6,-6,-6,-6,-6,-6,-5,-5,-5,-5,-5,-5,-4,-4,-4,-4,-4,-3,-3,-3,-3,-3,-3,-2,-2,-2,-2,-2,-2,-1,-1,-1,-1,-1,-1,0,0,0,0,0,0,1,1,1,1,1,1,2,2,2,2,2,3,3,3,3,3,3,4,4,4,4,4,4,5,5,5,5,5,5,6,6,6,6,6,6,7,7],
[-3,-3,-3,-3,-3,-2,-2,-2,-2,-2,-2,-2,-2,-2,-1,-1,-1,-1,-1,-1,-1,-1,0,0,0,0,0,0,0,0,0,1,1,1,1,1,1,1,1,1,2,2,2,2,2,2,2,2,2,3,3,3,3,3,3,3,3,3,4,4,4,4,4,4,4,4,4,5,5,5,5,5,5,5,5,5,6,6,6,6,6]
]

const panelW = 1740, panelH = 1585
const origin = [193.3, 1114]   // x=4, t=0, 底部
const vecX = [626.7, 334.3]    // x 从 4 到 -4
const vecT = [815.7, -257.3]   // t 从 0 到 1.5
const vecZ = 725.7
const narrow = 0.8
const panels = [
  {w: w1, z: zTicks1, dx: 0, dy: 0, nameX: 55.7},
  {w: w2, z: zTicks2, dx: 1891.7, dy: 0, nameX: 52},
  {w: w3, z: zTicks3, dx: 0, dy: 1630, nameX: 55.7},
  {w: w4, z: zTicks4, dx: 1891.7, dy: 1630, nameX: 31}
]

function jet(v) {
  let k = Math.min(63, Math.floor(v * 64))
  let f = (k + 1) / 64
  let ch = (c) => Math.round(255 * Math.max(0, Math.min(1, 1.5 - Math.abs(4 * f - c))))
  return `rgb(${ch(3)},${ch(2)},${ch(1)})`
}

function makeProject(zMin, zMax) {
  return (x, t, w) => {
    let a = (4 - x) / 8, b = t / 1.5, c = (w - zMin) / (zMax - zMin)
    return [origin[0] + a * vecX[0] + b * vecT[0], origin[1] + a * vecX[1] + b * vecT[1] - c * vecZ]
  }
}

function surfaceSeries(p, idx) {
  let zMax = Math.max(...p.z), zMin = Math.min(...p.z)
  let project = makeProject(zMin, zMax)
  let flat = p.w.flat()
  let lo = Math.min(...flat), hi = Math.max(...flat)
  // 从远到近画：t 大的先画，同一列 x 大的先画
  let cells = []
  for (let j = tValues.length - 2; j >= 0; j--) {
    for (let i = xValues.length - 2; i >= 0; i--) {
      cells.push([j, i])
    }
  }
  return {
    type: 'custom', xAxisIndex: idx, yAxisIndex: idx, silent: true, animation: false, clip: false,
    progressive: 0, z: 3, data: cells,
    renderItem: (params, api) => {
      let j = api.value(0), i = api.value(1)
      let pts = [[j, i], [j, i + 1], [j + 1, i + 1], [j + 1, i]].map(q =>
        api.coord(project(xValues[q[1]], tValues[q[0]], p.w[q[0]][q[1]])))
      let edge = (a, b) => ({
        type: 'line', shape: {x1: a[0], y1: a[1], x2: b[0], y2: b[1]},
        style: {stroke: '#000', lineWidth: 2.8}
      })
      return {
        type: 'group',
        children: [
          {
            type: 'polygon', shape: {points: pts},
            style: {fill: jet((p.w[j][i] - lo) / (hi - lo)), stroke: '#000', lineWidth: 1.9, lineJoin: 'round'}
          },
          edge(pts[0], pts[1]),
          edge(pts[3], pts[2])
        ]
      }
    }
  }
}

function boxSeries(p, idx) {
  let zMax = Math.max(...p.z), zMin = Math.min(...p.z)
  let project = makeProject(zMin, zMax)
  let dotted = [], solid = []
  p.z.forEach(z => {
    dotted.push([[4, 0, z], [4, 1.5, z]], [[4, 1.5, z], [-4, 1.5, z]])
  })
  xTicks.forEach(x => {
    dotted.push([[x, 0, zMin], [x, 1.5, zMin]], [[x, 1.5, zMin], [x, 1.5, zMax]])
  })
  tTicks.forEach(t => {
    dotted.push([[4, t, zMin], [-4, t, zMin]], [[4, t, zMin], [4, t, zMax]])
  })
  solid.push([[4, 0, zMin], [4, 0, zMax]], [[4, 0, zMin], [-4, 0, zMin]], [[-4, 0, zMin], [-4, 1.5, zMin]])
  let line = (data, z, style) => ({
    type: 'custom', xAxisIndex: idx, yAxisIndex: idx, silent: true, animation: false, clip: false, z: z,
    data: data.map((d, k) => [k]),
    renderItem: (params, api) => {
      let seg = data[api.value(0)]
      let a = api.coord(project(...seg[0])), b = api.coord(project(...seg[1]))
      let vertical = Math.abs(a[0] - b[0]) < 1
      return {
        type: 'line', shape: {x1: a[0], y1: a[1], x2: b[0], y2: b[1]},
        style: style.dash ? {stroke: '#000', lineWidth: 2.2, lineDash: vertical ? [5, 14] : [3, 11]} : {stroke: '#000', lineWidth: 3.2}
      }
    }
  })
  // 刻度线
  let ticks = []
  p.z.forEach(z => { ticks.push({at: [4, 0, z], d: [-19.5, -10]}) })
  xTicks.forEach(x => { ticks.push({at: [x, 0, zMin], d: [-20, 7]}) })
  tTicks.forEach(t => { ticks.push({at: [-4, t, zMin], d: [19.5, 10.5]}) })
  let tickSeries = {
    type: 'custom', xAxisIndex: idx, yAxisIndex: idx, silent: true, animation: false, clip: false, z: 4,
    data: ticks.map((d, k) => [k]),
    renderItem: (params, api) => {
      let tk = ticks[api.value(0)]
      let a = api.coord(project(...tk.at))
      return {type: 'line', shape: {x1: a[0], y1: a[1], x2: a[0] + tk.d[0], y2: a[1] + tk.d[1]}, style: {stroke: '#000', lineWidth: 3.2}}
    }
  }
  return [line(dotted, 1, {dash: true}), line(solid, 4, {}), tickSeries]
}

function labelSeries(p, idx) {
  let zMax = Math.max(...p.z), zMin = Math.min(...p.z)
  let project = makeProject(zMin, zMax)
  let font = '56px "Liberation Sans"'
  let items = []
  p.z.forEach(z => {
    let q = project(4, 0, z)
    items.push({pos: [163, q[1] - 13], text: String(z).replace('-', '\u2212'), align: 'right', font, sx: narrow})
  })
  xTicks.forEach(x => {
    let q = project(x, 0, zMin)
    items.push({pos: [q[0] - 31, q[1] + 48], text: String(x).replace('-', '\u2212'), align: 'right', font, sx: narrow})
  })
  tTicks.forEach(t => {
    let q = project(-4, t, zMin)
    items.push({pos: [q[0] + 30, q[1] + 53], text: String(t), align: 'left', font, sx: narrow})
  })
  items.push({pos: [491.7, 1531], text: 'x', align: 'center', font: '60px "Liberation Sans"', sx: narrow})
  items.push({pos: [1187.6, 1549], text: 't', align: 'center', font: '60px "Liberation Sans"', sx: narrow})
  items.push({pos: [p.nameX, 749], text: 'w(x,t)', align: 'center', rotate: Math.PI / 2, font: 'bold 62px "Liberation Sans"', sx: 1})
  items.push({pos: [912, 57], text: 'For {a|\u03b1}=' + titles[idx], align: 'center', font: '64px "Liberation Sans"', sx: 0.78})
  return {
    type: 'custom', xAxisIndex: idx, yAxisIndex: idx, silent: true, animation: false, clip: false, z: 5,
    data: items.map((d, k) => [k]),
    renderItem: (params, api) => {
      let it = items[api.value(0)]
      let c = api.coord(it.pos)
      return {
        type: 'text', x: c[0], y: c[1], rotation: it.rotate || 0, scaleX: it.sx, scaleY: 1,
        style: {
          x: 0, y: 0, text: it.text, font: it.font, fill: '#000', align: it.align, verticalAlign: 'middle',
          rich: {a: {font: 'italic 56px "DejaVu Serif"', fill: '#000'}}
        }
      }
    }
  }
}

let chart = echarts.init(document.getElementById('chart'), null, {renderer: 'canvas'})
let series = []
panels.forEach((p, idx) => {
  series.push(...boxSeries(p, idx), surfaceSeries(p, idx), labelSeries(p, idx))
})
chart.setOption({
  backgroundColor: '#fff',
  animation: false,
  grid: panels.map(p => ({left: p.dx, top: p.dy, width: panelW, height: panelH})),
  xAxis: panels.map((p, idx) => ({gridIndex: idx, type: 'value', min: 0, max: panelW, show: false})),
  yAxis: panels.map((p, idx) => ({gridIndex: idx, type: 'value', min: 0, max: panelH, inverse: true, show: false})),
  series: series
})
</script>
</body>
</html>
